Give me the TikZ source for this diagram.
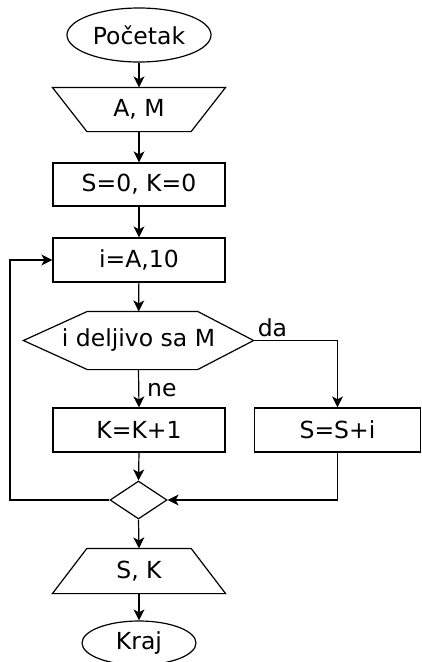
\documentclass[tikz,border=0pt]{standalone}
\usepackage{fontspec}
\setmainfont{DejaVu Sans}
\usetikzlibrary{shapes.geometric,arrows.meta,calc}
\begin{document}
\begin{tikzpicture}[x=1pt,y=-1pt,
  every node/.style={font=\fontsize{23.5}{26}\selectfont, inner sep=0pt},
  lw/.style={line width=1.2pt},
  box/.style={draw, lw, rectangle, minimum width=172pt, minimum height=44pt},
  oval/.style={draw, lw, ellipse},
  arr/.style={lw, -{Stealth[length=11pt,width=11pt,inset=3pt]}}
]
\useasboundingbox (0,0) rectangle (422,662);
\node[oval, minimum width=144pt, minimum height=54pt] (start) at (139,35) {Početak};
\node[box, draw=none, minimum height=43pt] (am) at (139,109.5) {A, M};
\draw[lw] (am.north west) -- (am.north east) -- ($(am.south east)+(-34.5,0)$) -- ($(am.south west)+(34.5,0)$) -- cycle;
\node[box, minimum height=43pt] (init) at (139,184.5) {S=0, K=0};
\node[box] (loop) at (139,260) {i=A,10};
\node[box, draw=none, minimum width=229pt, minimum height=57pt] (cond) at (138.5,340.5) {i deljivo sa M};
\draw[lw] (cond.west) -- ($(cond.north west)+(64,0)$) -- ($(cond.north east)+(-56,0)$) -- (cond.east) -- ($(cond.south east)+(-56,0)$) -- ($(cond.south west)+(64,0)$) -- cycle;
\node[box] (kk) at (139,430) {K=K+1};
\node[box, minimum width=166pt] (ss) at (337.5,430) {S=S+i};
\node[draw, lw, diamond, minimum width=57pt, minimum height=38pt] (merge) at (138.5,500) {};
\node[box, draw=none] (out) at (139,571) {S, K};
\draw[lw] ($(out.north west)+(34.5,0)$) -- ($(out.north east)+(-34.5,0)$) -- (out.south east) -- (out.south west) -- cycle;
\node[oval, minimum width=114pt, minimum height=44pt] (end) at (139,643) {Kraj};
\coordinate (lp) at (10,0);

\draw[arr] (start) -- (am);
\draw[arr] (am) -- (init);
\draw[arr] (init) -- (loop);
\draw[arr] (loop) -- (cond);
\draw[arr] (cond.east) -| (ss.north);
\node[anchor=south west] (da) at ($(cond.east)+(4,-3)$) {da};
\draw[arr] (cond.south) -- (kk.north);
\node[anchor=west] (ne) at (147,390) {ne};
\draw[arr] (kk.south) -- (merge.north);
\draw[arr] (ss.south) |- (merge.east);
\draw[arr] (merge.west) -- (merge.west -| lp) |- (loop.west);
\draw[arr] (merge.south) -- (out.north);
\draw[arr] (out.south) -- (end.north);
\end{tikzpicture}
\end{document}
